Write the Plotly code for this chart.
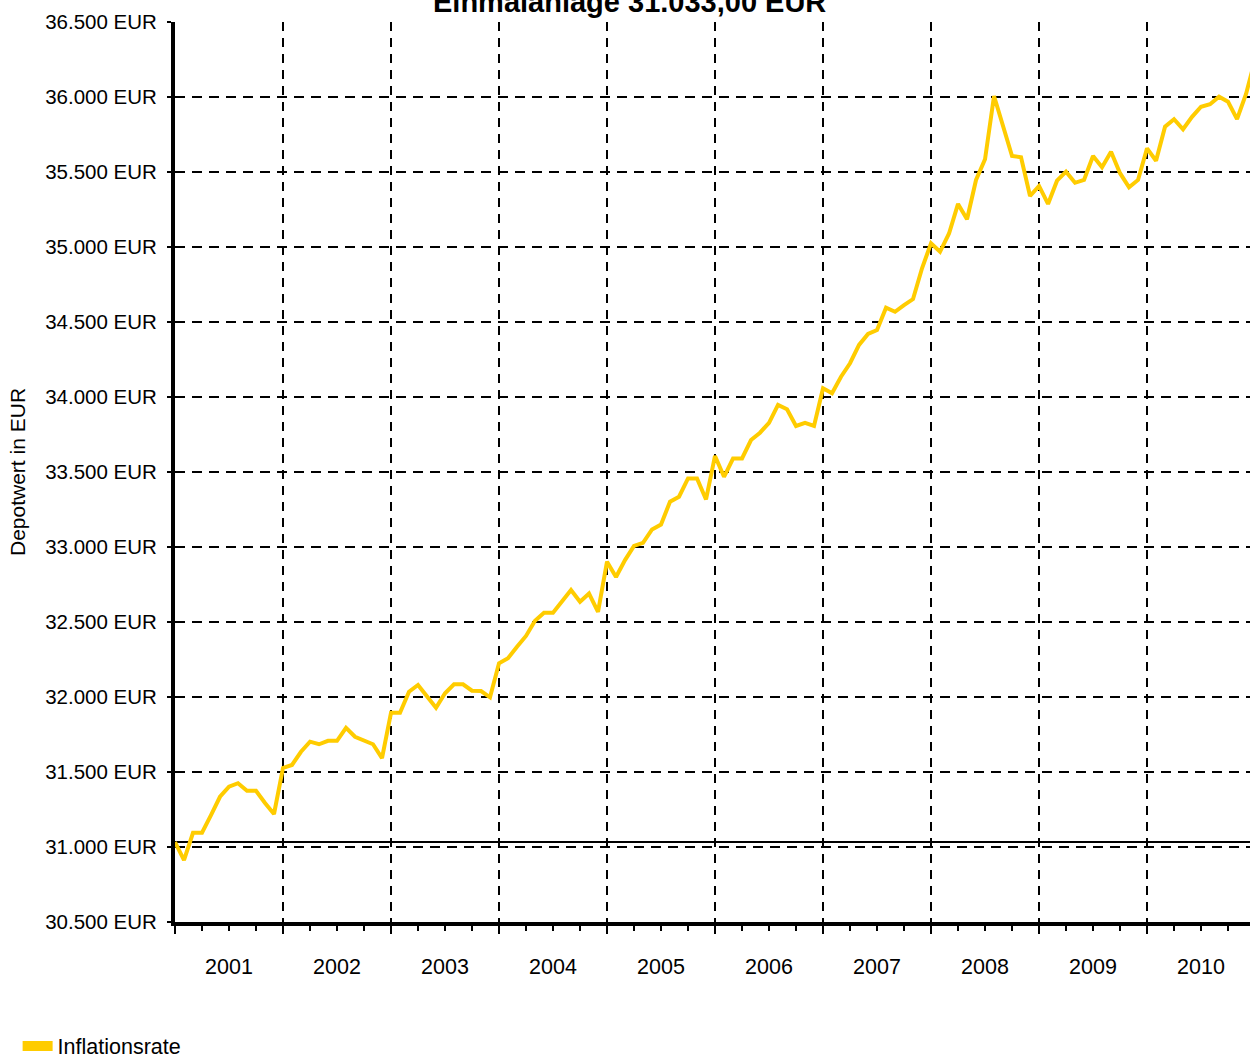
import plotly.graph_objects as go

# ---------------- data ----------------
title_text = "Einmalanlage 31.033,00 EUR"
initial_investment = 31033
series_name = "Inflationsrate"
y_axis_title = "Depotwert in EUR"

year_labels = ["2001", "2002", "2003", "2004", "2005", "2006", "2007", "2008", "2009", "2010"]

v2001 = [31033, 30913, 31095, 31095, 31213, 31335, 31402, 31425, 31375, 31375, 31293, 31220]
v2002 = [31527, 31547, 31635, 31702, 31685, 31708, 31708, 31795, 31735, 31713, 31685, 31592]
v2003 = [31895, 31895, 32035, 32080, 32002, 31928, 32025, 32085, 32085, 32042, 32040, 31998]
v2004 = [32225, 32258, 32335, 32407, 32508, 32562, 32562, 32642, 32713, 32635, 32690, 32568]
v2005 = [32902, 32800, 32913, 33007, 33028, 33117, 33150, 33302, 33335, 33457, 33457, 33317]
v2006 = [33607, 33468, 33590, 33590, 33713, 33762, 33828, 33947, 33918, 33807, 33828, 33807]
v2007 = [34058, 34025, 34135, 34225, 34347, 34420, 34447, 34595, 34568, 34613, 34653, 34858]
v2008 = [35025, 34968, 35090, 35287, 35185, 35447, 35585, 36007, 35807, 35607, 35598, 35340]
v2009 = [35407, 35287, 35442, 35502, 35428, 35447, 35607, 35532, 35635, 35492, 35398, 35447]
v2010 = [35658, 35575, 35802, 35852, 35785, 35868, 35935, 35952, 36002, 35968, 35852, 36020]
v2011 = [36250]

y_tick_values = [30500, 31000, 31500, 32000, 32500, 33000, 33500, 34000, 34500, 35000, 35500, 36000, 36500]
y_tick_labels = ["30.500 EUR", "31.000 EUR", "31.500 EUR", "32.000 EUR", "32.500 EUR", "33.000 EUR",
                 "33.500 EUR", "34.000 EUR", "34.500 EUR", "35.000 EUR", "35.500 EUR", "36.000 EUR",
                 "36.500 EUR"]

# ---------------- build ----------------
values = v2001 + v2002 + v2003 + v2004 + v2005 + v2006 + v2007 + v2008 + v2009 + v2010 + v2011
month_index = list(range(len(values)))  # 0 = Jan 2001
year_start = [12 * i for i in range(len(year_labels))]
year_mid = [12 * i + 6 for i in range(len(year_labels))]
quarters = [3 * i for i in range(len(values) // 3 + 1) if (3 * i) % 12 != 0]
x_range = [0, 119.44]

FONT = "Liberation Sans, Arial, sans-serif"
GOLD = "#FFCC00"

fig = go.Figure()
fig.add_trace(go.Scatter(x=month_index, y=values, mode="lines",
                         line=dict(color=GOLD, width=4), showlegend=False,
                         hoverinfo="skip"))
fig.add_trace(go.Scatter(x=[None], y=[None], mode="lines", name=series_name,
                         line=dict(color=GOLD, width=10)))
fig.add_trace(go.Scatter(x=[0], y=[30400], xaxis="x2", showlegend=False, mode="markers",
                         marker=dict(opacity=0), hoverinfo="skip"))

fig.add_shape(type="line", xref="paper", x0=0, x1=1, yref="y",
              y0=initial_investment, y1=initial_investment,
              line=dict(color="black", width=2), layer="below")

fig.add_annotation(text="<b>" + title_text + "</b>", xref="paper", yref="paper",
                   x=0.423, y=1.0222, xanchor="center", yanchor="middle", showarrow=False,
                   font=dict(family=FONT, size=29, color="black"))

fig.update_layout(
    width=1250, height=1056,
    margin=dict(l=175, r=0, t=22, b=134, autoexpand=False),
    paper_bgcolor="white", plot_bgcolor="white",
    font=dict(family=FONT, size=20, color="black"),
    xaxis=dict(range=x_range, tickmode="array", tickvals=year_start, ticktext=[""] * len(year_start),
               ticks="outside", ticklen=8, tickwidth=2, tickcolor="black",
               showline=True, linewidth=4, linecolor="black",
               showgrid=True, gridcolor="black", gridwidth=2, griddash="9px,7px",
               zeroline=False,
               minor=dict(tickmode="array", tickvals=quarters, ticks="outside", ticklen=5,
                          tickwidth=2, tickcolor="black", showgrid=False)),
    xaxis2=dict(range=x_range, overlaying="x", anchor="y", side="bottom",
                tickmode="array", tickvals=year_mid, ticktext=year_labels,
                ticks="outside", ticklen=25, tickcolor="rgba(0,0,0,0)",
                showgrid=False, showline=False, zeroline=False,
                tickfont=dict(family=FONT, size=21.5, color="black")),
    yaxis=dict(range=[30500, 36500], tickmode="array", tickvals=y_tick_values, ticktext=y_tick_labels,
               ticks="outside", ticklen=4, tickwidth=2, tickcolor="black",
               ticklabelstandoff=6,
               showline=True, linewidth=4, linecolor="black",
               showgrid=True, gridcolor="black", gridwidth=2, griddash="10px,7px",
               zeroline=False,
               tickfont=dict(family=FONT, size=20.5, color="black"),
               title=dict(text=y_axis_title, font=dict(family=FONT, size=21, color="black"), standoff=15)),
    legend=dict(x=-0.1464, xanchor="left", y=-0.1378, yanchor="middle",
                font=dict(family=FONT, size=21.5, color="black"),
                bgcolor="rgba(0,0,0,0)", itemwidth=30),
    showlegend=True,
)

fig.write_html("out.html", config={"displayModeBar": False},
               post_script="document.body.style.margin='0px';document.body.style.overflow='hidden';")
